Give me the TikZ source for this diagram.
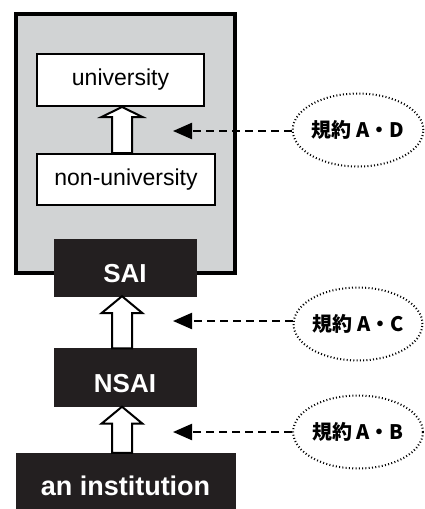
\documentclass[tikz,border=0pt]{standalone}
\usepackage{fontspec}
\setmainfont{Liberation Sans}
\newfontfamily\jpfont{Noto Sans CJK JP}
\usepackage{tikz}
\usetikzlibrary{shapes.geometric,arrows.meta,calc}

\definecolor{panelgrey}{RGB}{209,211,212}
\definecolor{boxblack}{RGB}{35,31,32}

\tikzset{
  whitebox/.style={draw=black, line width=2pt, fill=white, inner sep=0pt,
    font=\fontsize{23}{25}\selectfont},
  blackbox/.style={draw=boxblack, fill=boxblack, text=white, inner sep=0pt,
    text height=29pt, text depth=0pt, font=\fontsize{26}{28}\selectfont\bfseries},
  rulebubble/.style={ellipse, draw=black, line width=2pt, dash pattern=on 1pt off 2.3pt,
    fill=white, inner sep=0pt, minimum width=124pt, minimum height=73pt,
    font=\fontsize{20}{22}\selectfont\jpfont\bfseries},
  ruleline/.style={line width=2.2pt, dash pattern=on 8pt off 5pt,
    -{Triangle[length=19pt, width=16pt]}},
  hollow/.style={draw=black, line width=2pt, fill=white, line join=miter}
}

% hollow upward arrow: #1 = lower node, #2 = upper node, #3 = head length
\newcommand{\hollowup}[3]{%
  \draw[hollow] ($(axis |- #1.north)+(-10,0)$) -- ($(axis |- #2.south)+(-10,#3)$)
    -- ($(axis |- #2.south)+(-20.5,#3)$) -- (axis |- #2.south)
    -- ($(axis |- #2.south)+(20.5,#3)$) -- ($(axis |- #2.south)+(10,#3)$)
    -- ($(axis |- #1.north)+(10,0)$) -- cycle;}

\begin{document}
\begin{tikzpicture}[x=1pt, y=-1pt]
    \useasboundingbox (0,0) rectangle (424,509);

    % grey panel
    \draw [fill=panelgrey, line width=4pt] (16,14) rectangle (235,273);

    \coordinate (axis) at (122,0);

    \node [whitebox, minimum width=167pt, minimum height=52pt] (univ) at (120.5,80) {university};
    \node [whitebox, minimum width=178pt, minimum height=51pt] (nonuniv) at (126,179.5) {non-university};

    \node [blackbox, minimum width=142pt, minimum height=57pt] (sai) at (125,267.5) {SAI};
    \node [blackbox, minimum width=142pt, minimum height=58pt] (nsai) at (125,377.5) {NSAI};
    \node [blackbox, minimum width=219pt, minimum height=56pt] (inst) at (125.5,481)
        {\fontsize{27}{29}\selectfont an institution};

    \hollowup{nonuniv}{univ}{10}
    \hollowup{nsai}{sai}{17}
    \hollowup{inst}{nsai}{17}

    % rules
    \node [rulebubble] (ruleAD) at (358,130) {規約 A・D};
    \node [rulebubble] (ruleAC) at (358,324) {規約 A・C};
    \node [rulebubble] (ruleAB) at (358,432) {規約 A・B};

    \coordinate (tipAD) at (173,131);
    \coordinate (tipAC) at (173,321);
    \coordinate (tipAB) at (173,432);

    \draw[ruleline] (ruleAD.west |- tipAD) -- (tipAD);
    \draw[ruleline] (ruleAC.west |- tipAC) -- (tipAC);
    \draw[ruleline] (ruleAB.west |- tipAB) -- (tipAB);
\end{tikzpicture}
\end{document}
